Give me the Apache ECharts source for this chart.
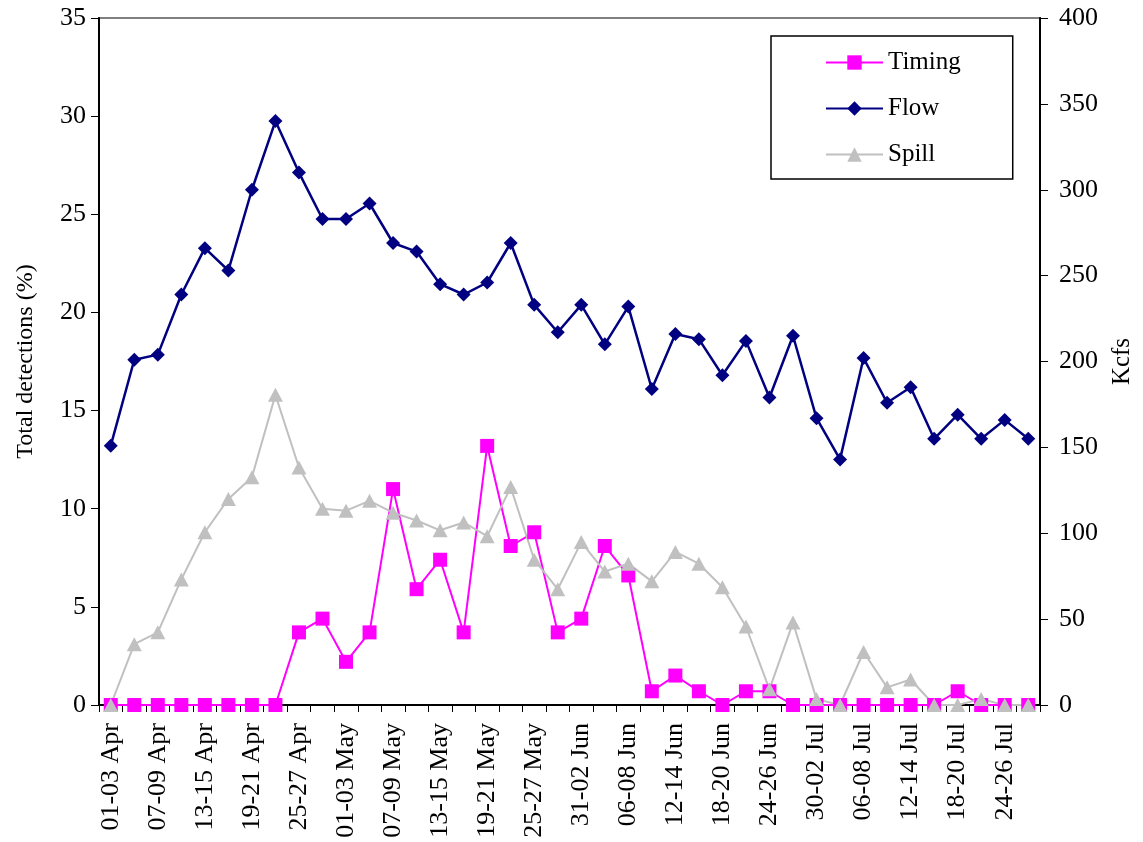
<!DOCTYPE html>
<html>
<head>
<meta charset="utf-8">
<script src="https://cdn.jsdelivr.net/npm/echarts@6/dist/echarts.min.js"></script>
<style>
html,body{margin:0;padding:0;background:#fff;}
#chart{width:1143px;height:842px;}
</style>
</head>
<body>
<div id="chart"></div>
<script>
var categories = ['01-03 Apr','04-06 Apr','07-09 Apr','10-12 Apr','13-15 Apr','16-18 Apr','19-21 Apr','22-24 Apr','25-27 Apr','28-30 Apr',
  '01-03 May','04-06 May','07-09 May','10-12 May','13-15 May','16-18 May','19-21 May','22-24 May','25-27 May','28-30 May',
  '31-02 Jun','03-05 Jun','06-08 Jun','09-11 Jun','12-14 Jun','15-17 Jun','18-20 Jun','21-23 Jun','24-26 Jun','27-29 Jun',
  '30-02 Jul','03-05 Jul','06-08 Jul','09-11 Jul','12-14 Jul','15-17 Jul','18-20 Jul','21-23 Jul','24-26 Jul','27-29 Jul'];

// Total detections (%) - left axis
var timing = [0,0,0,0,0,0,0,0,3.7,4.4,
  2.2,3.7,11.0,5.9,7.4,3.7,13.2,8.1,8.8,3.7,
  4.4,8.1,6.6,0.7,1.5,0.7,0,0.7,0.7,0,
  0,0,0,0,0,0,0.7,0,0,0];

// Spill (%) - left axis
var spill = [0,3.1,3.7,6.4,8.8,10.5,11.6,15.8,12.1,10.0,
  9.9,10.4,9.8,9.4,8.9,9.3,8.6,11.1,7.4,5.9,
  8.3,6.8,7.2,6.3,7.8,7.2,6.0,4.0,0.8,4.2,
  0.3,0,2.7,0.9,1.3,0,0,0.3,0,0];

// Flow (Kcfs) - right axis
var flow = [151,201,204,239,266,253,300,340,310,283,
  283,292,269,264,245,239,246,269,233,217,
  233,210,232,184,216,213,192,212,179,215,
  167,143,202,176,185,155,169,155,166,155];

var FONT = 'Liberation Serif';
var chart = echarts.init(document.getElementById('chart'));
chart.setOption({
  backgroundColor: '#fff',
  animation: false,
  textStyle: {fontFamily: FONT, color: '#000'},
  grid: {left: 99, right: 103, top: 18, bottom: 137, show: true, borderColor: '#808080', borderWidth: 2, backgroundColor: 'transparent'},
  legend: {
    orient: 'vertical',
    left: 771, top: 36,
    padding: [13, 52, 11, 54],
    itemGap: 19,
    itemWidth: 57,
    itemHeight: 18,
    borderColor: '#000',
    borderWidth: 1.5,
    backgroundColor: '#fff',
    textStyle: {fontFamily: FONT, fontSize: 25, color: '#000', lineHeight: 27},
    data: ['Timing', 'Flow', 'Spill']
  },
  xAxis: {
    type: 'category',
    data: categories,
    boundaryGap: true,
    axisLine: {lineStyle: {color: '#000', width: 2}},
    axisTick: {show: true, interval: 0, length: 7, lineStyle: {color: '#000', width: 1}},
    axisLabel: {interval: 1, rotate: 90, fontFamily: FONT, fontSize: 26, color: '#000', margin: 18},
    splitLine: {show: false}
  },
  yAxis: [{
    type: 'value',
    min: 0, max: 35, interval: 5,
    position: 'left',
    name: 'Total detections (%)',
    nameLocation: 'middle',
    nameRotate: 90,
    nameGap: 61,
    nameTextStyle: {fontFamily: FONT, fontSize: 24, color: '#000'},
    axisLine: {show: true, lineStyle: {color: '#000', width: 2}},
    axisTick: {show: true, length: 8, lineStyle: {color: '#000', width: 1}},
    axisLabel: {fontFamily: FONT, fontSize: 26, color: '#000', margin: 13},
    splitLine: {show: false}
  }, {
    type: 'value',
    min: 0, max: 400, interval: 50,
    position: 'right',
    name: 'Kcfs',
    nameLocation: 'middle',
    nameRotate: 90,
    nameGap: 70,
    nameTextStyle: {fontFamily: FONT, fontSize: 25, color: '#000'},
    axisLine: {show: true, lineStyle: {color: '#000', width: 2}},
    axisTick: {show: true, length: 8, lineStyle: {color: '#000', width: 1}},
    axisLabel: {fontFamily: FONT, fontSize: 26, color: '#000', margin: 19},
    splitLine: {show: false}
  }],
  series: [{
    name: 'Timing',
    type: 'line',
    yAxisIndex: 0,
    data: timing,
    symbol: 'rect',
    symbolSize: 14,
    lineStyle: {color: '#FF00FF', width: 2},
    itemStyle: {color: '#FF00FF'}
  }, {
    name: 'Flow',
    type: 'line',
    yAxisIndex: 1,
    data: flow,
    symbol: 'diamond',
    symbolSize: 14,
    lineStyle: {color: '#000080', width: 2.5},
    itemStyle: {color: '#000080'}
  }, {
    name: 'Spill',
    type: 'line',
    yAxisIndex: 0,
    data: spill,
    symbol: 'triangle',
    symbolSize: [15, 14],
    lineStyle: {color: '#C0C0C0', width: 2},
    itemStyle: {color: '#C0C0C0'}
  }]
});
</script>
</body>
</html>
